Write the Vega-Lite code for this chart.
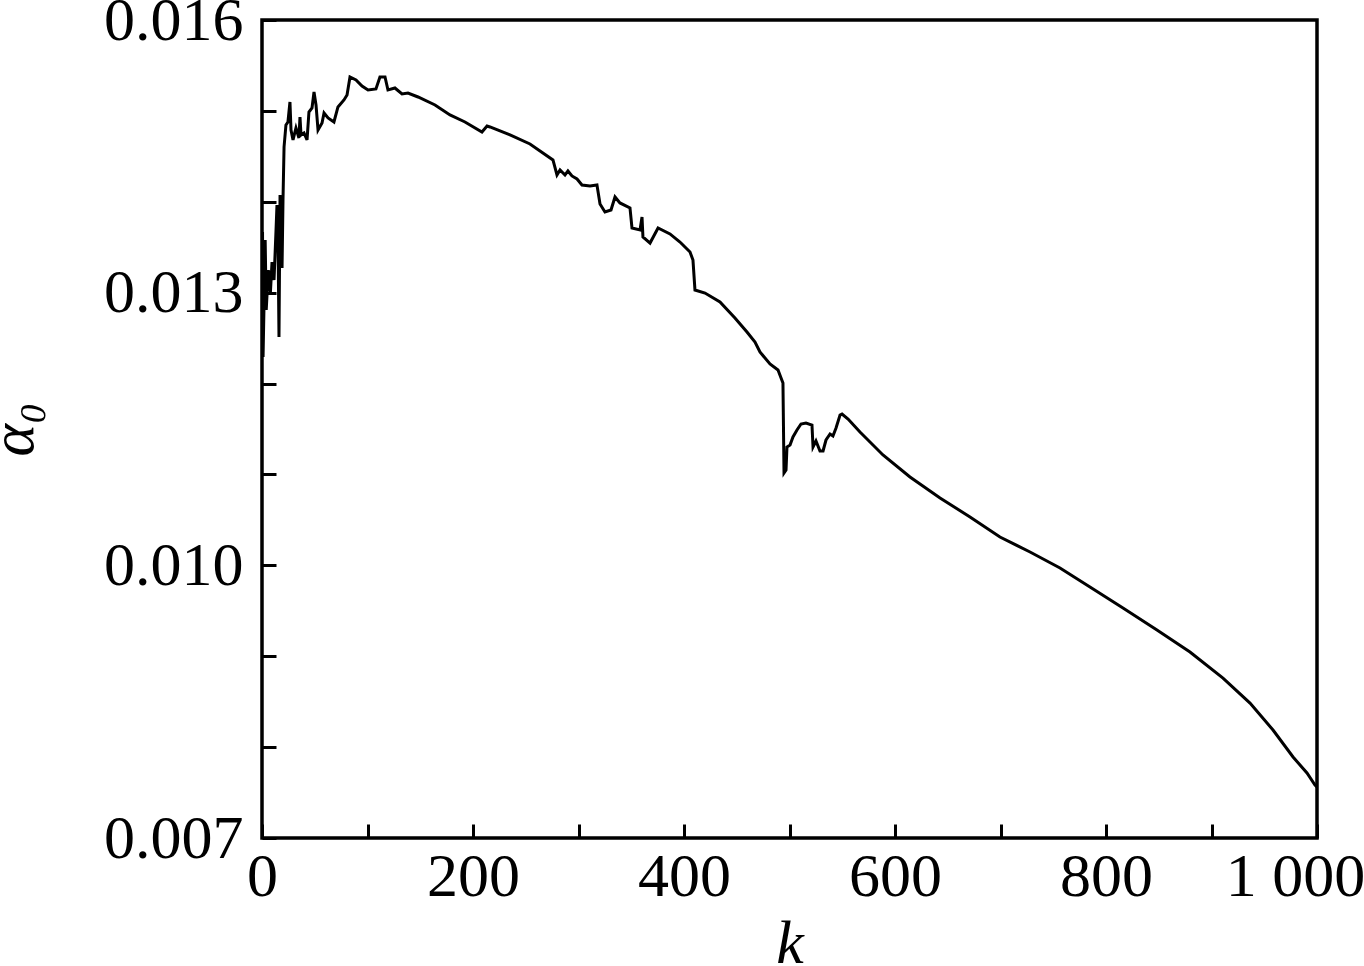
{
  "$schema": "https://vega.github.io/schema/vega-lite/v6.json",
  "width": 1055,
  "height": 818,
  "autosize": {"type": "none"},
  "padding": {"left": 262, "top": 20, "right": 47, "bottom": 128},
  "background": "white",
  "config": {
    "view": {"stroke": "black", "strokeWidth": 3.5},
    "axis": {
      "grid": false,
      "domain": false,
      "ticks": true,
      "tickSize": -14,
      "tickWidth": 3,
      "tickColor": "black",
      "labelFont": "Liberation Serif",
      "labelFontSize": 62,
      "labelColor": "black",
      "labelOverlap": false,
      "labelBound": false,
      "labelFlush": false,
      "titleFont": "Liberation Serif",
      "titleFontSize": 62,
      "titleFontStyle": "italic",
      "titleFontWeight": "normal",
      "titleColor": "black"
    }
  },
  "data": {
    "values": [
      {"k": 0.5, "a": 0.013667}, {"k": 1, "a": 0.012292}, {"k": 2, "a": 0.012919}, {"k": 3, "a": 0.013579},
      {"k": 4, "a": 0.012809}, {"k": 6, "a": 0.013249}, {"k": 8, "a": 0.013007}, {"k": 9.5, "a": 0.013337},
      {"k": 11.4, "a": 0.013139}, {"k": 13.3, "a": 0.013689}, {"k": 14.2, "a": 0.013965}, {"k": 15.2, "a": 0.013579},
      {"k": 16.1, "a": 0.012512}, {"k": 17.1, "a": 0.014075}, {"k": 19, "a": 0.013271}, {"k": 19.9, "a": 0.01402},
      {"k": 20.9, "a": 0.014603}, {"k": 22.7, "a": 0.014845}, {"k": 24.6, "a": 0.014878}, {"k": 26.5, "a": 0.015098},
      {"k": 27.5, "a": 0.01479}, {"k": 29.4, "a": 0.01468}, {"k": 32.2, "a": 0.014812}, {"k": 35, "a": 0.014702},
      {"k": 36, "a": 0.014933}, {"k": 37, "a": 0.014735}, {"k": 39.8, "a": 0.014757}, {"k": 42.7, "a": 0.01468},
      {"k": 44.5, "a": 0.014988}, {"k": 47.4, "a": 0.015032}, {"k": 49.3, "a": 0.015208}, {"k": 51.2, "a": 0.015065},
      {"k": 53.1, "a": 0.01479}, {"k": 56.9, "a": 0.014867}, {"k": 58.8, "a": 0.014977}, {"k": 62.6, "a": 0.014922},
      {"k": 68.2, "a": 0.014878}, {"k": 72, "a": 0.015043}, {"k": 77.7, "a": 0.01512}, {"k": 80.6, "a": 0.015175},
      {"k": 83.4, "a": 0.015373}, {"k": 89.1, "a": 0.01534}, {"k": 94.8, "a": 0.015274}, {"k": 100.5, "a": 0.01523},
      {"k": 108, "a": 0.015241}, {"k": 111.8, "a": 0.015373}, {"k": 116.6, "a": 0.015373}, {"k": 119.4, "a": 0.01523},
      {"k": 126, "a": 0.015252}, {"k": 132.7, "a": 0.015186}, {"k": 138.4, "a": 0.015197}, {"k": 147.9, "a": 0.015153},
      {"k": 164, "a": 0.015065}, {"k": 178.2, "a": 0.014955}, {"k": 192.4, "a": 0.014878}, {"k": 208.5, "a": 0.014768},
      {"k": 213.3, "a": 0.014834}, {"k": 216.1, "a": 0.014823}, {"k": 235.1, "a": 0.014735}, {"k": 254, "a": 0.014636},
      {"k": 275.8, "a": 0.01446}, {"k": 279.6, "a": 0.014295}, {"k": 282.5, "a": 0.01435}, {"k": 287.2, "a": 0.014295},
      {"k": 290, "a": 0.014339}, {"k": 293.8, "a": 0.014284}, {"k": 298.6, "a": 0.014251}, {"k": 303.3, "a": 0.014185},
      {"k": 310.9, "a": 0.014174}, {"k": 317.5, "a": 0.014185}, {"k": 320.4, "a": 0.013976}, {"k": 325.1, "a": 0.013888},
      {"k": 330.8, "a": 0.01391}, {"k": 334.6, "a": 0.014053}, {"k": 339.3, "a": 0.013987}, {"k": 348.8, "a": 0.013932},
      {"k": 350.7, "a": 0.013712}, {"k": 358.3, "a": 0.01369}, {"k": 360.2, "a": 0.013833}, {"k": 361.1, "a": 0.013613},
      {"k": 367.8, "a": 0.013546}, {"k": 375.4, "a": 0.013712}, {"k": 386.7, "a": 0.013646}, {"k": 396.2, "a": 0.013557},
      {"k": 405.7, "a": 0.013447}, {"k": 408.5, "a": 0.013359}, {"k": 410.4, "a": 0.013029}, {"k": 419.9, "a": 0.012996},
      {"k": 434.1, "a": 0.012897}, {"k": 448.3, "a": 0.012721}, {"k": 459.7, "a": 0.012567}, {"k": 467.3, "a": 0.012457},
      {"k": 472, "a": 0.012347}, {"k": 481.5, "a": 0.012215}, {"k": 489.1, "a": 0.012149}, {"k": 493.8, "a": 0.012006},
      {"k": 494.8, "a": 0.011016}, {"k": 496.7, "a": 0.011049}, {"k": 497.6, "a": 0.011302}, {"k": 500.5, "a": 0.011324},
      {"k": 503.3, "a": 0.011412}, {"k": 507.1, "a": 0.011489}, {"k": 510.9, "a": 0.011555}, {"k": 515.6, "a": 0.011566},
      {"k": 521.3, "a": 0.011544}, {"k": 522.3, "a": 0.011302}, {"k": 525.1, "a": 0.011368}, {"k": 528.9, "a": 0.011258},
      {"k": 531.8, "a": 0.011258}, {"k": 534.6, "a": 0.011379}, {"k": 538.4, "a": 0.011445}, {"k": 541.2, "a": 0.011423},
      {"k": 544.1, "a": 0.011511}, {"k": 547.9, "a": 0.011654}, {"k": 549.8, "a": 0.011665}, {"k": 555.5, "a": 0.01161},
      {"k": 566.8, "a": 0.011467}, {"k": 588.6, "a": 0.011214}, {"k": 614.2, "a": 0.010972}, {"k": 642.7, "a": 0.010741},
      {"k": 671.1, "a": 0.010532}, {"k": 699.5, "a": 0.010312}, {"k": 728, "a": 0.010147}, {"k": 756.4, "a": 0.009971},
      {"k": 784.8, "a": 0.009762}, {"k": 816.1, "a": 0.009531}, {"k": 848.3, "a": 0.009288}, {"k": 879.6, "a": 0.009046},
      {"k": 910.9, "a": 0.00876}, {"k": 936.5, "a": 0.008485}, {"k": 958.3, "a": 0.008188}, {"k": 977.3, "a": 0.007891},
      {"k": 990.5, "a": 0.007715}, {"k": 998.1, "a": 0.007583}, {"k": 1000, "a": 0.007561}
    ]
  },
  "mark": {"type": "line", "color": "black", "strokeWidth": 3, "interpolate": "linear"},
  "encoding": {
    "x": {
      "field": "k",
      "type": "quantitative",
      "scale": {"domain": [0, 1000], "nice": false, "zero": false},
      "axis": {
        "title": "k",
        "values": [0, 100, 200, 300, 400, 500, 600, 700, 800, 900, 1000],
        "format": "d",
        "labelExpr": "datum.value % 200 == 0 ? (datum.value == 1000 ? '1 000' : datum.label) : ''",
        "labelPadding": 22,
        "labelOffset": {"condition": {"test": "datum.value == 1000", "value": -22}, "value": 0},
        "titlePadding": 6
      }
    },
    "y": {
      "field": "a",
      "type": "quantitative",
      "scale": {"domain": [0.007, 0.016], "nice": false, "zero": false},
      "axis": {
        "title": "α₀",
        "values": [0.007, 0.008, 0.009, 0.01, 0.011, 0.012, 0.013, 0.014, 0.015, 0.016],
        "format": ".3f",
        "labelExpr": "round(datum.value * 1000) % 3 == 1 ? datum.label : ''",
        "labelPadding": 33,
        "titlePadding": 58
      }
    }
  }
}
